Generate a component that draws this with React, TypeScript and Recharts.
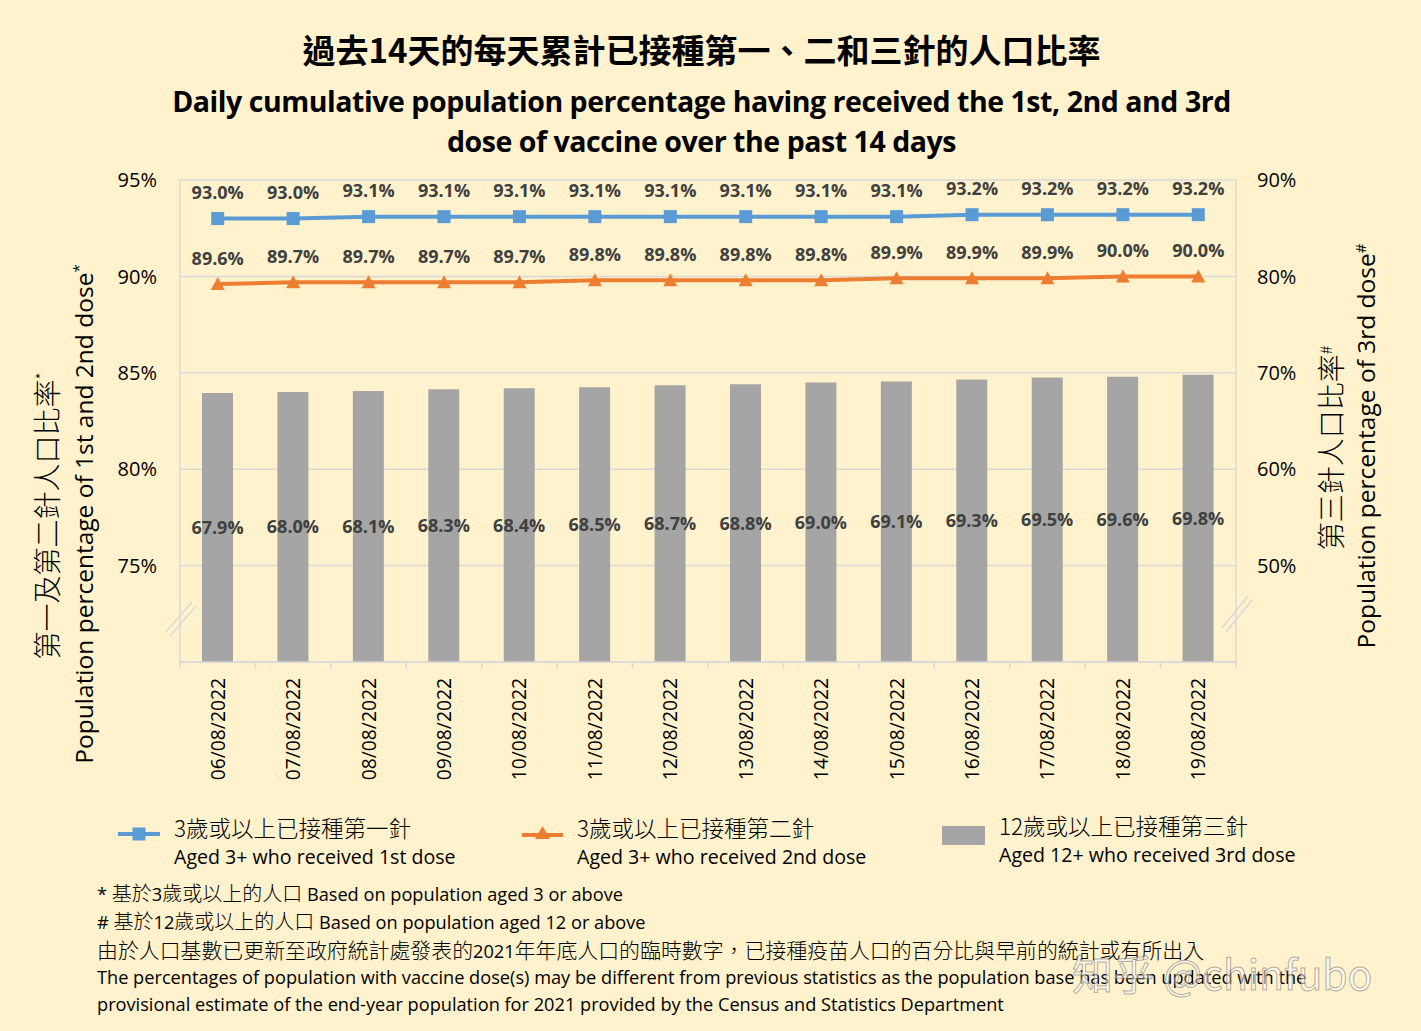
import React from 'react';
import { ComposedChart, Bar, Line, XAxis, YAxis, CartesianGrid, LabelList } from 'recharts';

const dates = ['06/08/2022', '07/08/2022', '08/08/2022', '09/08/2022', '10/08/2022', '11/08/2022', '12/08/2022', '13/08/2022', '14/08/2022', '15/08/2022', '16/08/2022', '17/08/2022', '18/08/2022', '19/08/2022'];
const firstDose = [93.0, 93.0, 93.1, 93.1, 93.1, 93.1, 93.1, 93.1, 93.1, 93.1, 93.2, 93.2, 93.2, 93.2];
const secondDose = [89.6, 89.7, 89.7, 89.7, 89.7, 89.8, 89.8, 89.8, 89.8, 89.9, 89.9, 89.9, 90.0, 90.0];
const thirdDose = [67.9, 68.0, 68.1, 68.3, 68.4, 68.5, 68.7, 68.8, 69.0, 69.1, 69.3, 69.5, 69.6, 69.8];
const leftTicks = [75, 80, 85, 90, 95];
const rightTicks = [50, 60, 70, 80, 90];

const titleZh = '過去14天的每天累計已接種第一、二和三針的人口比率';
const titleEn1 = 'Daily cumulative population percentage having received the 1st, 2nd and 3rd';
const titleEn2 = 'dose of vaccine over the past 14 days';
const legendZh = ['3歲或以上已接種第一針', '3歲或以上已接種第二針', '12歲或以上已接種第三針'];
const legendEn = ['Aged 3+ who received 1st dose', 'Aged 3+ who received 2nd dose', 'Aged 12+ who received 3rd dose'];

const data = dates.map((d, i) => ({ date: d, first: firstDose[i], second: secondDose[i], third: thirdDose[i] }));

const W = 1421;
const H = 1031;
const PLOT_LEFT = 180;
const PLOT_RIGHT = 1236;
const PLOT_TOP = 180;
const PLOT_BOTTOM = 662;

const BG = '#FFF2CC';
const BLUE = '#5B9BD5';
const ORANGE = '#ED7D31';
const GREY = '#A5A5A5';
const GRID = '#D9D9D9';
const EN = '"Open Sans", "Noto Sans", sans-serif';
const ZH = '"Noto Sans CJK TC", "Noto Sans CJK SC", sans-serif';

const fmt = (v: any) => `${Number(v).toFixed(1)}%`;

const XTick = (props: any) => {
  const { x, y, payload } = props;
  return (
    <text x={x} y={y} transform={`rotate(-90 ${x} ${y})`} textAnchor="end" dy="0.36em" fontSize={19.3} fill="#000" fontFamily={EN}>
      {payload.value}
    </text>
  );
};

const SquareDot = (props: any) => {
  const { cx, cy, index } = props;
  if (cx == null || cy == null) return null;
  return <rect key={`s${index}`} x={cx - 6.5} y={cy - 6.5} width={13} height={13} fill={BLUE} />;
};

const TriDot = (props: any) => {
  const { cx, cy, index } = props;
  if (cx == null || cy == null) return null;
  return <path key={`t${index}`} d={`M${cx},${cy - 7} L${cx + 7},${cy + 6} L${cx - 7},${cy + 6} Z`} fill={ORANGE} />;
};

const rotatedStyle = (cx: number, cy: number, size: number, family: string, weight = 400): React.CSSProperties => ({
  position: 'absolute',
  left: cx,
  top: cy,
  transform: 'translate(-50%, -50%) rotate(-90deg)',
  whiteSpace: 'nowrap',
  fontSize: size,
  fontFamily: family,
  fontWeight: weight,
  color: '#000',
  lineHeight: 1,
});

const zhSpan = (t: string, size: number) => (
  <span style={{ fontFamily: ZH, fontWeight: 300, fontSize: size }}>{t}</span>
);

export default function App() {
  const band = (PLOT_RIGHT - PLOT_LEFT) / dates.length;
  const boundaryTicks = Array.from({ length: dates.length + 1 }, (_, i) => PLOT_LEFT + i * band);
  return (
    <div style={{ position: 'absolute', left: 0, top: 0, width: W, height: H, background: BG, overflow: 'hidden' }}>
      <ComposedChart
        width={W}
        height={H}
        data={data}
        margin={{ top: PLOT_TOP, right: 125, bottom: 249, left: 120 }}
        style={{ position: 'absolute', left: 0, top: 0 }}
      >
        <CartesianGrid yAxisId="left" vertical={false} stroke={GRID} strokeWidth={1.5} />
        <XAxis
          dataKey="date"
          height={120}
          tick={<XTick />}
          tickLine={false}
          tickMargin={10}
          axisLine={{ stroke: GRID, strokeWidth: 1.5 }}
          interval={0}
        />
        <YAxis
          yAxisId="left"
          orientation="left"
          width={60}
          domain={[70, 95]}
          ticks={leftTicks}
          tickFormatter={(v: any) => `${v}%`}
          tick={{ fontSize: 20, fill: '#000', fontFamily: EN }}
          tickLine={false}
          tickMargin={17}
          axisLine={{ stroke: GRID, strokeWidth: 1.5 }}
          allowDataOverflow
        />
        <YAxis
          yAxisId="right"
          orientation="right"
          width={60}
          domain={[40, 90]}
          ticks={rightTicks}
          tickFormatter={(v: any) => `${v}%`}
          tick={{ fontSize: 20, fill: '#000', fontFamily: EN }}
          tickLine={false}
          tickMargin={15}
          axisLine={{ stroke: GRID, strokeWidth: 1.5 }}
          allowDataOverflow
        />
        <Bar yAxisId="right" dataKey="third" fill={GREY} barSize={31} isAnimationActive={false}>
          <LabelList dataKey="third" position="center" formatter={fmt} fill="#404040" fontSize={18} fontWeight="bold" fontFamily={EN} />
        </Bar>
        <Line
          yAxisId="left"
          dataKey="second"
          stroke={ORANGE}
          strokeWidth={4}
          dot={<TriDot />}
          activeDot={false}
          isAnimationActive={false}
        >
          <LabelList dataKey="second" position="top" offset={19} formatter={fmt} fill="#404040" fontSize={18} fontWeight="bold" fontFamily={EN} />
        </Line>
        <Line
          yAxisId="left"
          dataKey="first"
          stroke={BLUE}
          strokeWidth={4}
          dot={<SquareDot />}
          activeDot={false}
          isAnimationActive={false}
        >
          <LabelList dataKey="first" position="top" offset={20} formatter={fmt} fill="#404040" fontSize={18} fontWeight="bold" fontFamily={EN} />
        </Line>
      </ComposedChart>

      <svg width={W} height={H} style={{ position: 'absolute', left: 0, top: 0, pointerEvents: 'none' }}>
        {boundaryTicks.map((x, i) => (
          <line key={i} x1={x} x2={x} y1={PLOT_BOTTOM} y2={PLOT_BOTTOM + 7} stroke={GRID} strokeWidth={1.5} />
        ))}
        <g stroke={GRID} strokeWidth={1.5}>
          <line x1={166} y1={632} x2={192} y2={602} />
          <line x1={170} y1={636} x2={196} y2={606} />
          <line x1={1222} y1={628} x2={1248} y2={596} />
          <line x1={1226} y1={632} x2={1252} y2={600} />
        </g>
      </svg>

      <div style={{ position: 'absolute', left: -9, width: W, top: 26, textAlign: 'center', fontFamily: ZH, fontWeight: 700, fontSize: 33, lineHeight: '46px', color: '#000' }}>
        {titleZh}
      </div>
      <div style={{ position: 'absolute', left: -9, width: W, top: 81, textAlign: 'center', fontFamily: EN, fontWeight: 700, fontSize: 28.5, lineHeight: '40px', color: '#000', letterSpacing: '-0.45px' }}>
        <div>{titleEn1}</div>
        <div>{titleEn2}</div>
      </div>

      <div style={rotatedStyle(46, 516, 28, ZH, 300)}>
        第一及第二針人口比率<sup style={{ fontSize: 16 }}>*</sup>
      </div>
      <div style={rotatedStyle(84, 514, 24.5, EN)}>
        Population percentage of 1st and 2nd dose<sup style={{ fontSize: 15 }}>*</sup>
      </div>
      <div style={rotatedStyle(1330, 448, 28, ZH, 300)}>
        第三針人口比率<sup style={{ fontSize: 16 }}>#</sup>
      </div>
      <div style={rotatedStyle(1366, 446, 24.5, EN)}>
        Population percentage of 3rd dose<sup style={{ fontSize: 15 }}>#</sup>
      </div>

      <svg width={W} height={60} style={{ position: 'absolute', left: 0, top: 808 }}>
        <line x1={118} x2={160} y1={26} y2={26} stroke={BLUE} strokeWidth={4} />
        <rect x={132.5} y={19.5} width={13} height={13} fill={BLUE} />
        <line x1={522} x2={563} y1={27} y2={27} stroke={ORANGE} strokeWidth={4} />
        <path d="M542.5,18 L550,31 L535,31 Z" fill={ORANGE} />
        <rect x={942} y={18} width={43} height={19} fill={GREY} />
      </svg>
      {[174, 577, 999].map((x, i) => (
        <div key={i} style={{ position: 'absolute', left: x, top: i === 2 ? 810 : 812, color: '#000' }}>
          <div style={{ fontFamily: ZH, fontWeight: 300, fontSize: 22.5, lineHeight: '30px', whiteSpace: 'nowrap' }}>{legendZh[i]}</div>
          <div style={{ fontFamily: EN, fontSize: 19.6, lineHeight: '30px', whiteSpace: 'nowrap' }}>{legendEn[i]}</div>
        </div>
      ))}

      <div style={{ position: 'absolute', left: 97, top: 880, color: '#000', fontFamily: EN, fontSize: 18.2, lineHeight: '26.8px', whiteSpace: 'nowrap' }}>
        <div>* {zhSpan('基於', 20)}3{zhSpan('歲或以上的人口', 20)} Based on population aged 3 or above</div>
        <div># {zhSpan('基於', 20)}12{zhSpan('歲或以上的人口', 20)} Based on population aged 12 or above</div>
        <div>{zhSpan('由於人口基數已更新至政府統計處發表的', 20.9)}2021{zhSpan('年年底人口的臨時數字，已接種疫苗人口的百分比與早前的統計或有所出入', 20.9)}</div>
        <div>The percentages of population with vaccine dose(s) may be different from previous statistics as the population base has been updated with the</div>
        <div>provisional estimate of the end-year population for 2021 provided by the Census and Statistics Department</div>
      </div>

      <div style={{ position: 'absolute', left: 1072, top: 942, fontFamily: ZH, fontSize: 41, color: 'rgba(255,255,255,0.55)', WebkitTextStroke: '1px rgba(120,120,120,0.6)', whiteSpace: 'nowrap' }}>
        知乎 @chinfubo
      </div>
    </div>
  );
}
